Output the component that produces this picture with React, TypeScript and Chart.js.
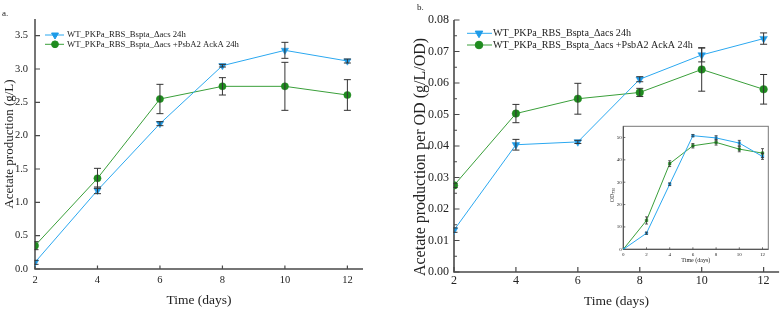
import { useEffect, useRef } from "react";
import { Chart, registerables } from "chart.js";
import { drawPoint } from "chart.js/helpers";

Chart.register(...registerables);

// ---- data ----
const days = [2, 4, 6, 8, 10, 12];

// a. acetate titre (g/L)
const acetateWT = [0.1, 1.18, 2.18, 3.05, 3.28, 3.12];
const acetateWTErr = [0.03, 0.05, 0.03, 0.02, 0.12, 0.03];
const acetateAckA = [0.35, 1.36, 2.55, 2.74, 2.74, 2.61];
const acetateAckAErr = [0.06, 0.15, 0.22, 0.13, 0.36, 0.23];

// b. acetate per OD (g/L/OD)
const perOdWT = [0.0133, 0.0404, 0.0413, 0.0612, 0.0689, 0.0741];
const perOdWTErr = [0.0007, 0.0017, 0.0005, 0.0008, 0.0022, 0.0018];
const perOdAckA = [0.0275, 0.0503, 0.055, 0.057, 0.0643, 0.058];
const perOdAckAErr = [0.0007, 0.0029, 0.0049, 0.0013, 0.0069, 0.0047];

// inset: growth (OD730)
const odDays = [0, 2, 4, 6, 8, 10, 12];
const odWT = [0, 7.2, 29.1, 50.8, 49.8, 47.5, 41.5];
const odWTErr = [0, 0.5, 0.6, 0.5, 1.0, 1.2, 1.3];
const odAckA = [0, 12.9, 38.3, 46.3, 47.8, 44.8, 43.0];
const odAckAErr = [0, 1.6, 1.3, 1.0, 1.2, 1.2, 2.0];

// tick labels
const dayTicks = [2, 4, 6, 8, 10, 12];
const acetateTicks = [0, 0.5, 1.0, 1.5, 2.0, 2.5, 3.0, 3.5];
const perOdTicks = [0, 0.01, 0.02, 0.03, 0.04, 0.05, 0.06, 0.07, 0.08];
const odDayTicks = [0, 2, 4, 6, 8, 10, 12];
const odTicks = [0, 10, 20, 30, 40, 50];

const seriesNames = [
  "WT_PKPa_RBS_Bspta_Δacs 24h",
  "WT_PKPa_RBS_Bspta_Δacs +PsbA2 AckA 24h",
];

// ---- styling ----
const SERIF = '"Liberation Serif", "Times New Roman", serif';
const BLUE = "#2BA8F0";
const BLUE_MARK = "#1D9BE8";
const GREEN = "#3A9F3A";
const GREEN_MARK = "#1F8B1F";
const INK = "#222222";
const AXIS = "#4a4a4a";

const pts = (xs: number[], ys: number[]) => xs.map((x, i) => ({ x, y: ys[i] }));

// vertical error bars with caps, taken from dataset.errors
const errorBars = {
  id: "errorBars",
  afterDatasetsDraw(chart: any, _args: any, o: any) {
    const { ctx, chartArea: a } = chart;
    const y = chart.scales.y;
    ctx.save();
    ctx.beginPath();
    ctx.rect(a.left - 0.5, 0, chart.width, chart.height);
    ctx.clip();
    ctx.strokeStyle = o.color;
    ctx.lineWidth = o.width;
    chart.data.datasets.forEach((ds: any, di: number) => {
      const meta = chart.getDatasetMeta(di);
      (ds.errors || []).forEach((e: number, i: number) => {
        if (!e) return;
        const p = meta.data[i];
        const v = ds.data[i].y;
        const top = y.getPixelForValue(v + e);
        const bot = y.getPixelForValue(v - e);
        ctx.beginPath();
        ctx.moveTo(p.x, top);
        ctx.lineTo(p.x, bot);
        ctx.moveTo(p.x - o.cap, top);
        ctx.lineTo(p.x + o.cap, top);
        ctx.moveTo(p.x - o.cap, bot);
        ctx.lineTo(p.x + o.cap, bot);
        ctx.stroke();
      });
    });
    ctx.restore();
  },
};

// axis lines with inward tick marks (and an optional closed frame)
const axesFrame = {
  id: "axesFrame",
  beforeDraw(chart: any, _args: any, o: any) {
    if (!o.fill) return;
    const { ctx, chartArea: a } = chart;
    ctx.save();
    ctx.fillStyle = o.fill;
    ctx.fillRect(a.left, a.top, a.right - a.left, a.bottom - a.top);
    ctx.restore();
  },
  beforeDatasetsDraw(chart: any, _args: any, o: any) {
    const { ctx, chartArea: a, scales } = chart;
    ctx.save();
    ctx.lineCap = "butt";
    if (o.box) {
      ctx.strokeStyle = o.boxColor;
      ctx.lineWidth = o.boxWidth;
      ctx.strokeRect(a.left, a.top, a.right - a.left, a.bottom - a.top);
    }
    ctx.strokeStyle = o.color;
    ctx.lineWidth = o.width;
    ctx.beginPath();
    ctx.moveTo(a.left, a.top);
    ctx.lineTo(a.left, a.bottom);
    ctx.lineTo(a.right, a.bottom);
    ctx.stroke();
    ctx.lineWidth = o.tickWidth;
    ctx.beginPath();
    scales.x.ticks.forEach((t: any) => {
      const px = scales.x.getPixelForValue(t.value);
      ctx.moveTo(px, a.bottom);
      ctx.lineTo(px, a.bottom - o.xTick);
    });
    const yt = scales.y.ticks;
    yt.forEach((t: any, i: number) => {
      const py = scales.y.getPixelForValue(t.value);
      ctx.moveTo(a.left, py);
      ctx.lineTo(a.left + o.yTick, py);
      if (o.yMinor && i < yt.length - 1) {
        const pm = scales.y.getPixelForValue((t.value + yt[i + 1].value) / 2);
        ctx.moveTo(a.left, pm);
        ctx.lineTo(a.left + o.yMinor, pm);
      }
    });
    ctx.stroke();
    ctx.restore();
  },
};

// legend rows: line segment with marker, then the series name
const lineLegend = {
  id: "lineLegend",
  afterDraw(chart: any, _args: any, o: any) {
    const ctx = chart.ctx;
    ctx.save();
    chart.data.datasets.forEach((ds: any, i: number) => {
      const y = o.rows[i];
      ctx.strokeStyle = ds.borderColor;
      ctx.lineWidth = ds.borderWidth;
      ctx.beginPath();
      ctx.moveTo(o.x0, y);
      ctx.lineTo(o.x1, y);
      ctx.stroke();
      ctx.fillStyle = ds.pointBackgroundColor;
      ctx.strokeStyle = ds.pointBorderColor;
      drawPoint(
        ctx,
        {
          pointStyle: ds.pointStyle,
          rotation: ds.pointRotation || 0,
          radius: o.radius[i],
          borderWidth: ds.pointBorderWidth,
        },
        o.marker,
        y
      );
      ctx.fillStyle = INK;
      ctx.font = `${o.size}px ${SERIF}`;
      ctx.textAlign = "left";
      ctx.textBaseline = "middle";
      ctx.fillText(ds.label, o.textX, y);
    });
    ctx.restore();
  },
};

// free-standing captions (panel letters, rotated axis names with subscripts)
const captions = {
  id: "captions",
  afterDraw(chart: any, _args: any, o: any) {
    const ctx = chart.ctx;
    ctx.save();
    ctx.fillStyle = INK;
    (o.items || []).forEach((it: any) => {
      ctx.save();
      ctx.translate(it.x, it.y);
      if (it.rotate) ctx.rotate(it.rotate);
      ctx.textBaseline = "alphabetic";
      ctx.font = `${it.size}px ${SERIF}`;
      const w = ctx.measureText(it.text).width;
      let subW = 0;
      if (it.sub) {
        ctx.font = `${it.subSize}px ${SERIF}`;
        subW = ctx.measureText(it.sub).width;
      }
      const start = it.align === "center" ? -(w + subW) / 2 : 0;
      ctx.font = `${it.size}px ${SERIF}`;
      ctx.textAlign = "left";
      ctx.fillText(it.text, start, 0);
      if (it.sub) {
        ctx.font = `${it.subSize}px ${SERIF}`;
        ctx.fillText(it.sub, start + w, it.subShift);
      }
      ctx.restore();
    });
    ctx.restore();
  },
};

const fixedTicks = (values: number[]) => (s: any) => {
  s.ticks = values.map((value) => ({ value }));
};

function wtSet(data: any[], errors: number[], radius: number, style = "triangle") {
  return {
    label: seriesNames[0],
    data,
    errors,
    borderColor: BLUE,
    borderWidth: 1,
    pointStyle: style,
    pointRotation: style === "triangle" ? 180 : 0,
    pointRadius: radius,
    pointBackgroundColor: BLUE_MARK,
    pointBorderColor: BLUE_MARK,
    pointBorderWidth: 0.5,
    tension: 0,
    fill: false,
  };
}

function ackASet(data: any[], errors: number[], radius: number, style = "circle") {
  return {
    label: seriesNames[1],
    data,
    errors,
    borderColor: GREEN,
    borderWidth: 1,
    pointStyle: style,
    pointRadius: radius,
    pointBackgroundColor: GREEN_MARK,
    pointBorderColor: GREEN_MARK,
    pointBorderWidth: 0.5,
    tension: 0,
    fill: false,
  };
}

function axis(cfg: {
  min: number;
  max: number;
  ticks: number[];
  digits: number;
  size: number;
  pad: number;
  fit: (s: any) => void;
  title?: any;
}) {
  return {
    type: "linear",
    min: cfg.min,
    max: cfg.max,
    afterBuildTicks: fixedTicks(cfg.ticks),
    afterFit: cfg.fit,
    grid: { display: false, drawTicks: false },
    border: { display: false },
    ticks: {
      color: INK,
      padding: cfg.pad,
      maxRotation: 0,
      autoSkip: false,
      font: { family: SERIF, size: cfg.size },
      callback: (v: any) => Number(v).toFixed(cfg.digits),
    },
    title: cfg.title || { display: false },
  };
}

function baseOptions(padding: any) {
  return {
    animation: false,
    responsive: false,
    events: [],
    layout: { padding },
  };
}

export default function App() {
  const aRef = useRef<HTMLCanvasElement>(null);
  const bRef = useRef<HTMLCanvasElement>(null);
  const cRef = useRef<HTMLCanvasElement>(null);

  useEffect(() => {
    const charts: Chart[] = [];

    // a. acetate production
    charts.push(
      new Chart(aRef.current!, {
        type: "line",
        data: {
          datasets: [
            wtSet(pts(days, acetateWT), acetateWTErr, 4.2),
            ackASet(pts(days, acetateAckA), acetateAckAErr, 3.6),
          ] as any,
        },
        options: {
          ...baseOptions({ top: 19, right: 29, left: 0, bottom: 0 }),
          plugins: {
            legend: { display: false },
            tooltip: { enabled: false },
            errorBars: { color: "#333", width: 1, cap: 3.5 },
            axesFrame: { color: AXIS, width: 1.5, tickWidth: 1.2, xTick: 3.5, yTick: 5 },
            lineLegend: { rows: [35, 44.3], x0: 45, x1: 64, marker: 55, textX: 67, size: 8.7, radius: [4, 3.4] },
            captions: { items: [{ text: "a.", x: 2, y: 16, size: 9 }] },
          },
          scales: {
            x: axis({
              min: 2,
              max: 12.5,
              ticks: dayTicks,
              digits: 0,
              size: 10.5,
              pad: 4.7,
              fit: (s) => { s.height = 40; },
              title: {
                display: true,
                text: "Time (days)",
                color: INK,
                font: { family: SERIF, size: 13.5 },
                padding: { top: 0, bottom: 0.9 },
              },
            }),
            y: axis({
              min: 0,
              max: 3.75,
              ticks: acetateTicks,
              digits: 1,
              size: 10.5,
              pad: 7,
              fit: (s) => { s.width = 35; },
              title: {
                display: true,
                text: "Acetate production (g/L)",
                color: INK,
                font: { family: SERIF, size: 13 },
                padding: { top: 2.2, bottom: 0 },
              },
            }),
          },
        } as any,
        plugins: [errorBars, axesFrame, lineLegend, captions] as any,
      })
    );

    // b. acetate production normalised to OD
    charts.push(
      new Chart(bRef.current!, {
        type: "line",
        data: {
          datasets: [
            wtSet(pts(days, perOdWT), perOdWTErr, 4.4),
            ackASet(pts(days, perOdAckA), perOdAckAErr, 3.8),
          ] as any,
        },
        options: {
          ...baseOptions({ top: 20, right: 0, left: 0, bottom: 0 }),
          plugins: {
            legend: { display: false },
            tooltip: { enabled: false },
            errorBars: { color: "#333", width: 1, cap: 3.5 },
            axesFrame: { color: AXIS, width: 1.6, tickWidth: 1.2, xTick: 5, yTick: 5.5, yMinor: 3 },
            lineLegend: { rows: [33.3, 45], x0: 75, x1: 100, marker: 87, textX: 101, size: 10.1, radius: [4.4, 3.8] },
            captions: {
              items: [
                { text: "b.", x: 25, y: 10, size: 9 },
                {
                  text: "Acetate production per OD (g/L/OD)",
                  size: 16,
                  x: 33,
                  y: 157,
                  rotate: -Math.PI / 2,
                  align: "center",
                },
              ],
            },
          },
          scales: {
            x: axis({
              min: 2,
              max: 12.5,
              ticks: dayTicks,
              digits: 0,
              size: 12,
              pad: 2,
              fit: (s) => { s.height = 37; },
              title: {
                display: true,
                text: "Time (days)",
                color: INK,
                font: { family: SERIF, size: 13.5, lineHeight: 1 },
                padding: { top: 0, bottom: 0.5 },
              },
            }),
            y: axis({
              min: 0,
              max: 0.08,
              ticks: perOdTicks,
              digits: 2,
              size: 12,
              pad: 5,
              fit: (s) => { s.width = 62; },
            }),
          },
        } as any,
        plugins: [errorBars, axesFrame, lineLegend, captions] as any,
      })
    );

    // inset: growth curves
    charts.push(
      new Chart(cRef.current!, {
        type: "line",
        data: {
          datasets: [
            wtSet(pts(odDays, odWT), odWTErr, 1.8, "rect"),
            ackASet(pts(odDays, odAckA), odAckAErr, 1.8, "rect"),
          ] as any,
        },
        options: {
          ...baseOptions({ top: 11.3, right: 6.7, left: 0, bottom: 0 }),
          plugins: {
            legend: { display: false },
            tooltip: { enabled: false },
            errorBars: { color: "#333", width: 0.8, cap: 1.5 },
            axesFrame: {
              fill: "#ffffff",
              box: true,
              boxColor: "#777",
              boxWidth: 1,
              color: AXIS,
              width: 1,
              tickWidth: 0.8,
              xTick: 2,
              yTick: 2,
            },
            captions: {
              items: [
                {
                  text: "OD",
                  sub: "730",
                  size: 6,
                  subSize: 4,
                  subShift: 1.5,
                  x: 13.5,
                  y: 80,
                  rotate: -Math.PI / 2,
                  align: "center",
                },
              ],
            },
          },
          scales: {
            x: axis({
              min: 0,
              max: 12.5,
              ticks: odDayTicks,
              digits: 0,
              size: 5,
              pad: 2.7,
              fit: (s) => { s.height = 15.7; },
              title: {
                display: true,
                text: "Time (days)",
                color: INK,
                font: { family: SERIF, size: 6 },
                padding: { top: 0, bottom: 1.4 },
              },
            }),
            y: axis({
              min: 0,
              max: 55,
              ticks: odTicks,
              digits: 0,
              size: 5,
              pad: 1.5,
              fit: (s) => { s.width = 23.3; },
            }),
          },
        } as any,
        plugins: [errorBars, axesFrame, captions] as any,
      })
    );

    return () => charts.forEach((c) => c.destroy());
  }, []);

  return (
    <div style={{ position: "fixed", left: 0, top: 0, width: 784, height: 309, background: "#ffffff" }}>
      <canvas ref={aRef} width={392} height={309} style={{ position: "absolute", left: 0, top: 0 }} />
      <canvas ref={bRef} width={392} height={309} style={{ position: "absolute", left: 392, top: 0 }} />
      <canvas ref={cRef} width={175} height={150} style={{ position: "absolute", left: 600, top: 115 }} />
    </div>
  );
}
